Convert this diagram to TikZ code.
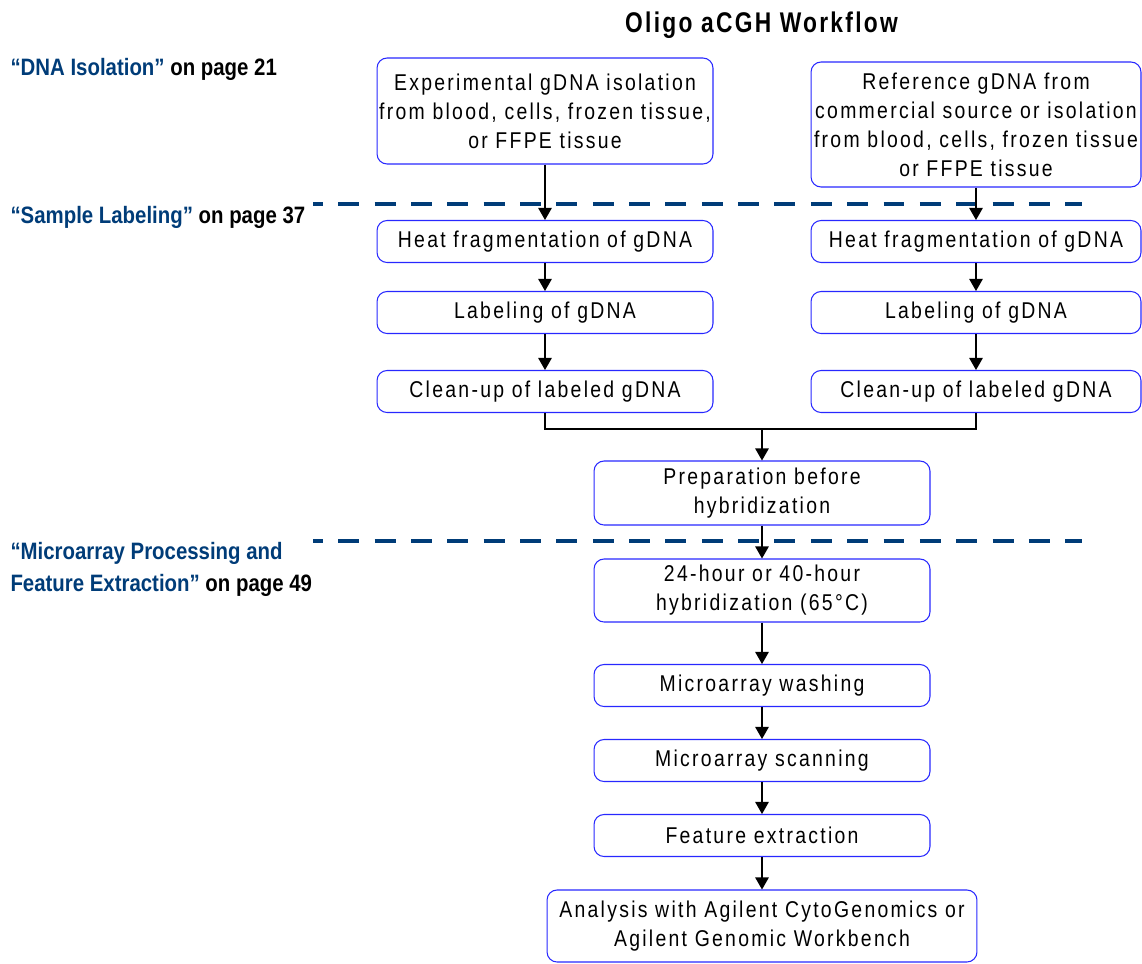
\documentclass[tikz,border=0pt]{standalone}
\usepackage{fontspec}
\setmainfont{Liberation Sans}
\newfontfamily\boxfont{Liberation Sans}[FakeStretch=0.85,LetterSpace=10]
\newfontfamily\labelfont{Liberation Sans Bold}[FakeStretch=0.86]
\newfontfamily\titlefont{Liberation Sans Bold}[FakeStretch=0.8,LetterSpace=8]
\usepackage{xcolor}
\definecolor{agblue}{RGB}{0,60,120}
\definecolor{boxline}{RGB}{40,40,255}
\usetikzlibrary{positioning,arrows.meta}

\begin{document}
\begin{tikzpicture}[x=0.02cm, y=-0.02cm, line width=0.6pt]
		\tikzset{>={Triangle[width=0.27cm,length=0.24cm]}}
		\tikzstyle{stepbox}=[draw=boxline, rounded corners=0.2cm, inner sep=0, align=center, minimum width=6.72cm, minimum height=0.84cm, font=\boxfont\fontsize{13}{16.5}\selectfont]
		\tikzstyle{sidelabel}=[anchor=base west, inner sep=0, align=left, font=\labelfont\fontsize{13.5}{17.8}\selectfont]
		\tikzstyle{sepline}=[draw=agblue, line width=2pt, dash pattern=on 0.42cm off 0.307cm, dash phase=0.22cm]
		\useasboundingbox (0,0) rectangle (1142,963);

		\node[anchor=base, inner sep=0, font=\titlefont\fontsize{16.2}{19}\selectfont] (title) at (761.5,33) {Oligo aCGH Workflow};

		% linke Seite
		\node[sidelabel] (isolab) at (10,76) {\textcolor{agblue}{“DNA Isolation”} on page 21};
		\node[sidelabel] (samplelab) at (10,223) {\textcolor{agblue}{“Sample Labeling”} on page 37};
		\node[sidelabel] (procelab) at (10,591) {\textcolor{agblue}{“Microarray Processing and}\\\textcolor{agblue}{Feature Extraction”} on page 49};

		% Trennlinien
		\coordinate (sepa1) at (313,204);
		\coordinate (sepb1) at (1082,204);
		\coordinate (sepa2) at (313,541);
		\coordinate (sepb2) at (1082,541);
		\draw[sepline] (sepa1) -- (sepb1);
		\draw[sepline] (sepa2) -- (sepb2);

		\node[stepbox, minimum height=2.12cm] (expiso) at (545,111) {Experimental gDNA isolation\\from blood, cells, frozen tissue,\\or FFPE tissue};
		\node[stepbox, minimum width=6.6cm, minimum height=2.5cm] (refiso) at (976,124.5) {Reference gDNA from\\commercial source or isolation\\from blood, cells, frozen tissue\\or FFPE tissue};

		\node[stepbox] (expheat) at (545,241.5) {Heat fragmentation of gDNA};
		\node[stepbox, minimum width=6.6cm] (refheat) at (976,241.5) {Heat fragmentation of gDNA};
		\node[stepbox] (explabel) at (545,312.5) {Labeling of gDNA};
		\node[stepbox, minimum width=6.6cm] (reflabel) at (976,312.5) {Labeling of gDNA};
		\node[stepbox] (expclean) at (545,391.5) {Clean-up of labeled gDNA};
		\node[stepbox, minimum width=6.6cm] (refclean) at (976,391.5) {Clean-up of labeled gDNA};

		\node[stepbox, minimum height=1.28cm] (prep) at (762,493) {Preparation before\\hybridization};
		\node[stepbox, minimum height=1.26cm] (hyb) at (762,590.5) {24-hour or 40-hour\\hybridization (65°C)};
		\node[stepbox] (wash) at (762,685.5) {Microarray washing};
		\node[stepbox] (scan) at (762,760.5) {Microarray scanning};
		\node[stepbox] (feat) at (762,835.5) {Feature extraction};
		\node[stepbox, minimum width=8.6cm, minimum height=1.44cm] (analysis) at (762,926) {Analysis with Agilent CytoGenomics or\\Agilent Genomic Workbench};

		\path (expiso) edge[->] (expheat);
		\path (refiso) edge[->] (refheat);
		\path (expheat) edge[->] (explabel);
		\path (refheat) edge[->] (reflabel);
		\path (explabel) edge[->] (expclean);
		\path (reflabel) edge[->] (refclean);

		\coordinate (join) at (762,429);
		\draw (expclean) |- (join) -| (refclean);
		\path (join) edge[->] (prep);

		\path (prep) edge[->] (hyb);
		\path (hyb) edge[->] (wash);
		\path (wash) edge[->] (scan);
		\path (scan) edge[->] (feat);
		\path (feat) edge[->] (analysis);
	\end{tikzpicture}
\end{document}
